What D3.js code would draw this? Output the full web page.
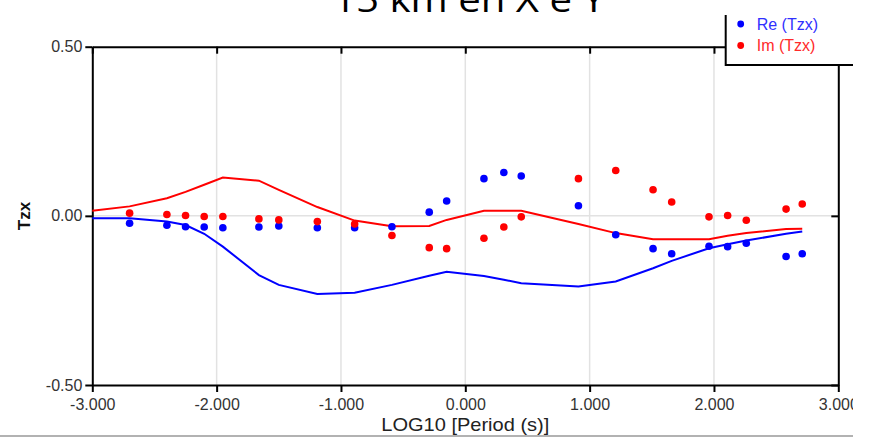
<!DOCTYPE html>
<html>
<head>
<meta charset="utf-8">
<script src="https://cdn.jsdelivr.net/npm/d3@7"></script>
<style>
  body { margin: 0; background: #fff; }
  text { font-family: "Liberation Sans", Arial, sans-serif; }
</style>
</head>
<body>
<svg id="graph" width="869" height="438"></svg>
<script>
/* Tzx tipper plot, 15 km en X e Y
 * measured points + model curve for Re and Im
 */

//Data
let logPeriods = [-2.70, -2.40, -2.25, -2.10, -1.95, -1.66, -1.50, -1.19,
                  -0.89, -0.59, -0.29, -0.15, 0.15, 0.31, 0.45, 0.91,
                  1.21, 1.51, 1.66, 1.96, 2.11, 2.26, 2.58, 2.71];

let reTzx = [-0.022, -0.028, -0.032, -0.033, -0.035, -0.033, -0.030, -0.035,
             -0.035, -0.032, 0.011, 0.044, 0.110, 0.128, 0.118, 0.030,
             -0.056, -0.097, -0.112, -0.090, -0.091, -0.081, -0.120, -0.112];

let imTzx = [0.008, 0.004, 0.001, -0.002, -0.002, -0.009, -0.012, -0.017,
             -0.024, -0.058, -0.094, -0.097, -0.066, -0.033, -0.003, 0.110,
             0.134, 0.077, 0.041, -0.003, 0.001, -0.013, 0.020, 0.035];

//Model curves (first vertex sits on the left axis)
let modelPeriods = [-3.00, -2.70, -2.40, -2.25, -2.10, -1.95, -1.66, -1.50, -1.19,
                    -0.89, -0.59, -0.29, -0.15, 0.15, 0.31, 0.45, 0.91,
                    1.21, 1.51, 1.66, 1.96, 2.11, 2.26, 2.58, 2.71];

let reModel = [-0.007, -0.007, -0.017, -0.027, -0.053, -0.091, -0.175, -0.204, -0.231,
               -0.227, -0.204, -0.177, -0.165, -0.178, -0.189, -0.199, -0.209,
               -0.194, -0.155, -0.133, -0.096, -0.084, -0.073, -0.053, -0.046];

let imModel = [0.015, 0.028, 0.052, 0.071, 0.092, 0.113, 0.104, 0.077, 0.026,
               -0.014, -0.031, -0.030, -0.012, 0.015, 0.015, 0.015, -0.024,
               -0.051, -0.069, -0.069, -0.069, -0.059, -0.051, -0.039, -0.038];

let xTicks = [-3, -2, -1, 0, 1, 2, 3];
let yTicks = [-0.5, 0, 0.5];
let seriesNames = ["Re (Tzx)", "Im (Tzx)"];

let title = "15 km en X e Y";
let xTitle = "LOG10 [Period (s)]";
let yTitle = "Tzx";

/******************************Graphing*************************************/

const BLUE = "#0000ff";
const RED = "#ff0000";

let svg = d3.select("svg#graph");

//whole chart image is cut at 853px
svg.append("clipPath").attr("id", "cut")
  .append("rect").attr("x", 0).attr("y", 0).attr("width", 853).attr("height", 438);

let g = svg.append("g").attr("clip-path", "url(#cut)");

let plotLeft = 92.3, plotRight = 838.3, plotTop = 46.7, plotBottom = 385;

let x = d3.scaleLinear().domain([-3, 3]).range([plotLeft, plotRight]);
let y = d3.scaleLinear().domain([-0.5, 0.5]).range([plotBottom, plotTop]);

//grid
g.append("g")
  .selectAll("line")
  .data(xTicks.slice(1, -1))
  .enter()
  .append("line")
  .attr("x1", d => x(d)).attr("x2", d => x(d))
  .attr("y1", plotTop).attr("y2", plotBottom)
  .attr("stroke", "#e2e2e2")
  .attr("stroke-width", 1.5);

g.append("g")
  .selectAll("line")
  .data(yTicks.slice(1, -1))
  .enter()
  .append("line")
  .attr("x1", plotLeft).attr("x2", plotRight)
  .attr("y1", d => y(d)).attr("y2", d => y(d))
  .attr("stroke", "#e2e2e2")
  .attr("stroke-width", 1.5);

//axes
function styleAxis(sel) {
  sel.select(".domain").attr("stroke", "#000").attr("stroke-width", 2);
  sel.selectAll(".tick line").attr("stroke", "#000").attr("stroke-width", 2);
  sel.selectAll(".tick text")
    .attr("fill", "#333")
    .style("font-size", "16px")
    .style("font-family", "'Liberation Sans', Arial, sans-serif");
}

g.append("g")
  .attr("transform", `translate(0,${plotBottom})`)
  .call(d3.axisBottom(x).tickValues(xTicks).tickFormat(d => d.toFixed(3))
        .tickSize(7).tickSizeOuter(0).tickPadding(7))
  .call(styleAxis);

g.append("g")
  .attr("transform", `translate(${plotLeft},0)`)
  .call(d3.axisLeft(y).tickValues(yTicks).tickFormat(d => d.toFixed(2))
        .tickSize(7).tickSizeOuter(0).tickPadding(3))
  .call(styleAxis);

//mirror axes, ticks pointing in
g.append("g")
  .attr("transform", `translate(0,${plotTop})`)
  .call(d3.axisBottom(x).tickValues(xTicks).tickFormat("").tickSize(7).tickSizeOuter(0))
  .call(styleAxis);

g.append("g")
  .attr("transform", `translate(${plotRight},0)`)
  .call(d3.axisLeft(y).tickValues(yTicks).tickFormat("").tickSize(7).tickSizeOuter(0))
  .call(styleAxis);

//model lines
let line = d3.line()
  .x(d => x(d[0]))
  .y(d => y(d[1]));

g.append("path")
  .datum(d3.zip(modelPeriods, imModel))
  .attr("d", line)
  .attr("fill", "none")
  .attr("stroke", RED)
  .attr("stroke-width", 2);

g.append("path")
  .datum(d3.zip(modelPeriods, reModel))
  .attr("d", line)
  .attr("fill", "none")
  .attr("stroke", BLUE)
  .attr("stroke-width", 2);

//measured points
g.append("g")
  .selectAll("circle")
  .data(d3.zip(logPeriods, reTzx))
  .enter()
  .append("circle")
  .attr("cx", d => x(d[0]))
  .attr("cy", d => y(d[1]))
  .attr("r", 3.8)
  .attr("fill", BLUE);

g.append("g")
  .selectAll("circle")
  .data(d3.zip(logPeriods, imTzx))
  .enter()
  .append("circle")
  .attr("cx", d => x(d[0]))
  .attr("cy", d => y(d[1]))
  .attr("r", 3.8)
  .attr("fill", RED);

//legend box (covers the top right corner of the frame)
let lgX = 725.7, lgBottom = 65;
g.append("rect")
  .attr("x", lgX).attr("y", 0)
  .attr("width", 869 - lgX).attr("height", lgBottom)
  .attr("fill", "#fff");
g.append("path")
  .attr("d", `M${lgX},15V${lgBottom}H869`)
  .attr("fill", "none")
  .attr("stroke", "#000")
  .attr("stroke-width", 2);

let legend = g.append("g")
  .selectAll("g")
  .data(seriesNames)
  .enter()
  .append("g")
  .attr("transform", (d, i) => `translate(740.7,${24 + i * 21.5})`);

legend.append("circle")
  .attr("r", 3.4)
  .attr("fill", (d, i) => i == 0 ? BLUE : RED);

legend.append("text")
  .attr("x", 16)
  .attr("dy", "0.35em")
  .style("font-size", "16px")
  .attr("fill", (d, i) => i == 0 ? "#3030ff" : "#ff2a2a")
  .text(d => d);

//titles (the chart title is cut by the top edge, as in the source image)
g.append("text")
  .attr("x", 469).attr("y", 12)
  .attr("text-anchor", "middle")
  .attr("textLength", 272)
  .attr("lengthAdjust", "spacingAndGlyphs")
  .style("font-family", "'Open Sans', 'Noto Sans', sans-serif")
  .style("font-size", "34px")
  .attr("fill", "#000")
  .text(title);

g.append("text")
  .attr("x", (plotLeft + plotRight) / 2).attr("y", 431)
  .attr("text-anchor", "middle")
  .attr("textLength", 168)
  .attr("lengthAdjust", "spacingAndGlyphs")
  .style("font-size", "19px")
  .attr("fill", "#222")
  .text(xTitle);

g.append("text")
  .attr("transform", "translate(24,216) rotate(-90)")
  .attr("text-anchor", "middle")
  .attr("dy", "0.35em")
  .style("font-size", "17px")
  .style("font-weight", "bold")
  .attr("fill", "#111")
  .text(yTitle);

//thin grey rule under the chart
g.append("line")
  .attr("x1", 0).attr("x2", 853)
  .attr("y1", 436).attr("y2", 436)
  .attr("stroke", "#999")
  .attr("stroke-width", 1.5);
</script>
</body>
</html>
